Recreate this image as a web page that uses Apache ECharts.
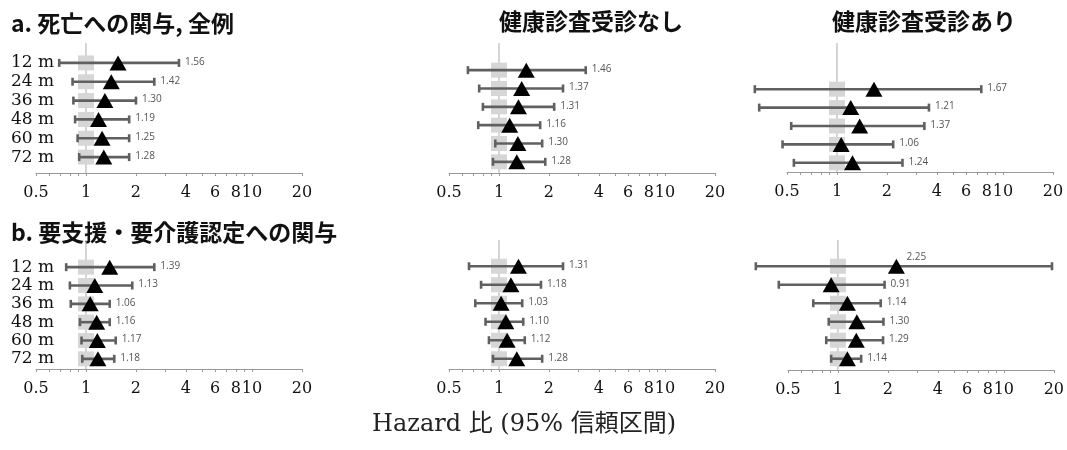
<!DOCTYPE html>
<html>
<head>
<meta charset="utf-8">
<script src="https://cdn.jsdelivr.net/npm/echarts@6/dist/echarts.min.js"></script>
<style>
  html, body { margin: 0; padding: 0; background: #fff; }
  #chart { width: 1067px; height: 450px; }
</style>
</head>
<body>
<div id="chart"></div>
<script>
// 行ラベル
const months = ['12 m', '24 m', '36 m', '48 m', '60 m', '72 m'];
const monthsNoYear1 = ['24 m', '36 m', '48 m', '60 m', '72 m'];

// a. 死亡への関与
const deathAllHr = [1.56, 1.42, 1.30, 1.19, 1.25, 1.28];
const deathAllLo = [0.69, 0.83, 0.84, 0.86, 0.89, 0.91];
const deathAllHi = [3.63, 2.58, 2.00, 1.82, 1.82, 1.82];
const deathNoHr = [1.46, 1.37, 1.31, 1.16, 1.30, 1.28];
const deathNoLo = [0.65, 0.76, 0.80, 0.75, 0.95, 0.92];
const deathNoHi = [3.33, 2.43, 2.15, 1.77, 1.82, 1.90];
const deathYesHr = [1.67, 1.21, 1.37, 1.06, 1.24];
const deathYesLo = [0.32, 0.34, 0.53, 0.47, 0.55];
const deathYesHi = [7.40, 3.58, 3.36, 2.18, 2.48];

// b. 要支援・要介護認定への関与
const careAllHr = [1.39, 1.13, 1.06, 1.16, 1.17, 1.18];
const careAllLo = [0.76, 0.80, 0.81, 0.92, 0.94, 0.95];
const careAllHi = [2.58, 1.90, 1.39, 1.39, 1.51, 1.48];
const careNoHr = [1.31, 1.18, 1.03, 1.10, 1.12, 1.28];
const careNoLo = [0.66, 0.78, 0.72, 0.83, 0.87, 0.92];
const careNoHi = [2.43, 1.79, 1.38, 1.40, 1.43, 1.82];
const careYesHr = [2.25, 0.91, 1.14, 1.30, 1.29, 1.14];
const careYesLo = [0.32, 0.44, 0.71, 0.88, 0.85, 0.91];
const careYesHi = [19.5, 1.91, 1.81, 1.88, 1.87, 1.38];

// x軸の目盛
const tickLabels = [0.5, 1, 2, 4, 6, 8, 10, 20];
const minorTicks = [0.5, 0.6, 0.7, 0.8, 0.9, 1, 2, 3, 4, 5, 6, 7, 8, 9, 10, 20];

const panels = [
  { cats: months, hr: deathAllHr, lo: deathAllLo, hi: deathAllHi },
  { cats: months, hr: deathNoHr, lo: deathNoLo, hi: deathNoHi },
  { cats: monthsNoYear1, hr: deathYesHr, lo: deathYesLo, hi: deathYesHi },
  { cats: months, hr: careAllHr, lo: careAllLo, hi: careAllHi },
  { cats: months, hr: careNoHr, lo: careNoLo, hi: careNoHi },
  { cats: months, hr: careYesHr, lo: careYesLo, hi: careYesHi }
];

// パネルごとの配置
const layout = [
  { left: 36, top: 53.5, height: 113, axisY: 173, lineTop: 43, showCats: true },
  { left: 449, top: 61, height: 110, axisY: 173, lineTop: 43, showCats: false },
  { left: 787, top: 80, height: 92, axisY: 172, lineTop: 43, showCats: false },
  { left: 36, top: 258, height: 110, axisY: 369, lineTop: 240, showCats: true },
  { left: 449, top: 257, height: 111, axisY: 369, lineTop: 240, showCats: false },
  { left: 788, top: 257, height: 111, axisY: 370, lineTop: 240, showCats: false }
];

const serifFont = '"DejaVu Serif", "Liberation Serif", serif';

function makeRenderer(lay) {
  return function (params, api) {
    const row = api.value(1);
    const c = api.coord([api.value(0), row]);
    const pLo = api.coord([api.value(2), row]);
    const pHi = api.coord([api.value(3), row]);
    const one = api.coord([1, row]);
    const cs = params.coordSys;
    const y = c[1];
    const children = [];
    if (params.dataIndex === 0) {
      // HR = 1 の基準線
      children.push({
        type: 'line',
        shape: { x1: one[0], y1: lay.lineTop, x2: one[0], y2: lay.axisY },
        style: { stroke: '#aaaaaa', lineWidth: 1 }
      });
    }
    children.push({
      type: 'rect',
      shape: { x: one[0] - 8, y: y - 7.5, width: 16, height: 15 },
      style: { fill: '#d6d6d6' }
    });
    const bar = { stroke: '#606060', lineWidth: 2.6 };
    children.push({ type: 'line', shape: { x1: pLo[0], y1: y, x2: pHi[0], y2: y }, style: bar });
    children.push({ type: 'line', shape: { x1: pLo[0], y1: y - 4, x2: pLo[0], y2: y + 4 }, style: bar });
    children.push({ type: 'line', shape: { x1: pHi[0], y1: y - 4, x2: pHi[0], y2: y + 4 }, style: bar });
    // 値ラベル（右端に入らない時は三角の右上へ）
    let tx = pHi[0] + 6, ty = y - 1;
    if (tx + 24 > cs.x + cs.width) {
      tx = c[0] + 10;
      ty = y - 9;
    }
    children.push({
      type: 'text',
      style: {
        x: tx, y: ty,
        text: api.value(0).toFixed(2),
        fill: '#555555',
        font: '10px "Open Sans", sans-serif',
        textAlign: 'left',
        textVerticalAlign: 'middle'
      }
    });
    return { type: 'group', children: children };
  };
}

const grid = [], xAxis = [], yAxis = [], series = [];
panels.forEach(function (p, i) {
  const lay = layout[i];
  grid.push({ left: lay.left, top: lay.top, width: 266, height: lay.height });
  xAxis.push({
    type: 'log',
    gridIndex: i,
    min: 0.5,
    max: 20,
    offset: lay.axisY - (lay.top + lay.height),
    axisLine: { show: true, lineStyle: { color: '#999999', width: 1 } },
    axisTick: { show: true, length: 3, customValues: minorTicks, lineStyle: { color: '#999999' } },
    axisLabel: {
      customValues: tickLabels,
      margin: 12,
      color: '#111',
      fontSize: 16,
      fontFamily: serifFont
    },
    splitLine: { show: false },
    minorTick: { show: false }
  });
  yAxis.push({
    type: 'category',
    gridIndex: i,
    inverse: true,
    data: p.cats,
    axisLine: { show: false },
    axisTick: { show: false },
    axisLabel: {
      show: lay.showCats,
      interval: 0,
      align: 'left',
      margin: lay.left - 11,
      color: '#111',
      fontSize: 17,
      fontFamily: serifFont
    }
  });
  series.push({
    type: 'custom',
    xAxisIndex: i,
    yAxisIndex: i,
    z: 2,
    clip: false,
    renderItem: makeRenderer(lay),
    data: p.hr.map(function (v, k) { return [v, p.cats[k], p.lo[k], p.hi[k]]; })
  });
  series.push({
    type: 'scatter',
    xAxisIndex: i,
    yAxisIndex: i,
    z: 3,
    symbol: 'triangle',
    symbolSize: [17, 15],
    itemStyle: { color: '#000000', opacity: 1 },
    data: p.hr.map(function (v, k) { return [v, p.cats[k]]; })
  });
});

const titleFont = 'bold 23px "Noto Sans CJK JP", sans-serif';
const chart = echarts.init(document.getElementById('chart'));
chart.setOption({
  animation: false,
  grid: grid,
  xAxis: xAxis,
  yAxis: yAxis,
  series: series,
  graphic: [
    { type: 'text', x: 11, y: 23, style: { text: 'a. 死亡への関与, 全例', font: titleFont, fill: '#111', textVerticalAlign: 'middle' } },
    { type: 'text', x: 591, y: 21, style: { text: '健康診査受診なし', font: titleFont, fill: '#111', textAlign: 'center', textVerticalAlign: 'middle' } },
    { type: 'text', x: 924, y: 21, style: { text: '健康診査受診あり', font: titleFont, fill: '#111', textAlign: 'center', textVerticalAlign: 'middle' } },
    { type: 'text', x: 11, y: 232, style: { text: 'b. 要支援・要介護認定への関与', font: titleFont, fill: '#111', textVerticalAlign: 'middle' } },
    { type: 'text', x: 524, y: 425, style: { text: 'Hazard 比 (95% 信頼区間)', font: '24px "DejaVu Serif", "Noto Sans CJK JP", serif', fill: '#222', textAlign: 'center', textVerticalAlign: 'middle' } }
  ]
});
</script>
</body>
</html>
